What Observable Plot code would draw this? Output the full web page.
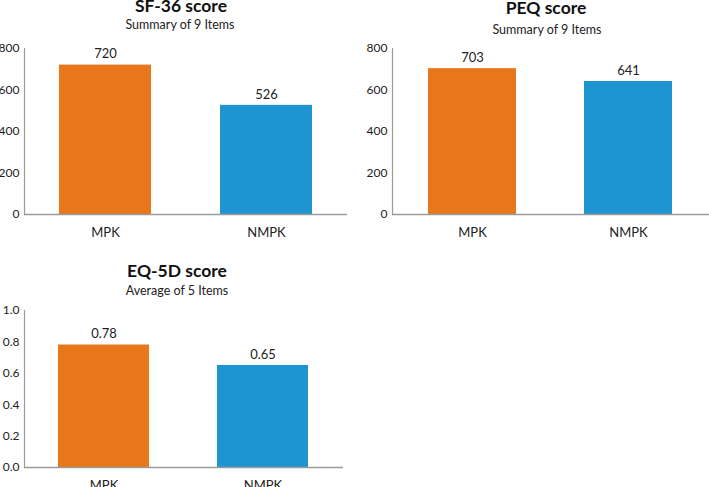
<!DOCTYPE html>
<html>
<head>
<meta charset="utf-8">
<script src="https://cdn.jsdelivr.net/npm/d3@7"></script>
<script src="https://cdn.jsdelivr.net/npm/@observablehq/plot@0.6"></script>
<style>
  html, body { margin: 0; padding: 0; background: #fff; }
  #root { position: relative; width: 709px; height: 487px; overflow: hidden; font-family: Lato, sans-serif; color: #111; }
  .title { position: absolute; width: 300px; text-align: center; font-weight: 700; font-size: 17.5px; line-height: 1; white-space: nowrap; }
  .sub { position: absolute; width: 300px; text-align: center; font-size: 12.5px; line-height: 1; white-space: nowrap; color: #222; }
  .chart { position: absolute; }
</style>
</head>
<body>
<div id="root"></div>
<script>
const categories = ["MPK", "NMPK"];
const sf36Values = [720, 526];
const peqValues = [703, 641];
const eq5dValues = [0.78, 0.65];
const barColors = ["#E8761A", "#1E95D1"];
const countTicks = [0, 200, 400, 600, 800];
const fracTicks = [0, 0.2, 0.4, 0.6, 0.8, 1.0];
const titles = ["SF-36 score", "PEQ score", "EQ-5D score"];
const subtitles = ["Summary of 9 Items", "Summary of 9 Items", "Average of 5 Items"];

const root = document.getElementById("root");

function addText(cls, text, cx, top) {
  const d = document.createElement("div");
  d.className = cls;
  d.textContent = text;
  d.style.left = (cx - 150) + "px";
  d.style.top = top + "px";
  root.appendChild(d);
}

function panel(o) {
  const data = categories.map((c, i) => ({cat: c, v: o.values[i]}));
  const svg = Plot.plot({
    width: o.width, height: o.height,
    marginLeft: o.ml, marginRight: o.mr, marginTop: o.mt, marginBottom: o.mb,
    style: {fontFamily: "Lato, sans-serif", fontSize: "13px", color: "#222", background: "transparent"},
    x: {domain: categories, paddingInner: o.pi, paddingOuter: o.po, label: null},
    y: {domain: [0, o.ymax], label: null},
    color: {domain: categories, range: barColors},
    marks: [
      Plot.barY(data, {x: "cat", y: "v", fill: "cat"}),
      Plot.text(data, {x: "cat", y: "v", text: d => o.vfmt(d.v), dy: -11, fontSize: 13, fill: "#222"}),
      Plot.ruleY([0], {stroke: "#9a9a9a", strokeWidth: 1.5}),
      Plot.frame({anchor: "left", stroke: "#9a9a9a", strokeWidth: 1.2}),
      Plot.axisY({ticks: o.ticks, tickSize: 0, tickPadding: 5, tickFormat: o.tfmt, fontSize: 12, label: null}),
      Plot.axisX({tickSize: 0, tickPadding: 13, fontSize: 13, label: null})
    ]
  });
  svg.classList.add("chart");
  svg.style.left = o.left + "px";
  svg.style.top = o.top + "px";
  root.appendChild(svg);
}

panel({values: sf36Values, ymax: 800, ticks: countTicks, tfmt: d3.format("d"), vfmt: d3.format("d"),
  left: -20, top: 40, width: 370, height: 205, ml: 44, mr: 3, mt: 8, mb: 31, pi: 0.426, po: 0.216});
panel({values: peqValues, ymax: 800, ticks: countTicks, tfmt: d3.format("d"), vfmt: d3.format("d"),
  left: 340, top: 40, width: 369, height: 205, ml: 52, mr: 0, mt: 8, mb: 31, pi: 0.433, po: 0.23});
panel({values: eq5dValues, ymax: 1.0, ticks: fracTicks, tfmt: d3.format(".1f"), vfmt: d3.format(".2f"),
  left: -20, top: 300, width: 370, height: 200, ml: 44, mr: 7, mt: 10, mb: 33, pi: 0.425, po: 0.21});

addText("title", titles[0], 181, -3);
addText("sub", subtitles[0], 180, 19);
addText("title", titles[1], 546, -1);
addText("sub", subtitles[1], 547, 24);
addText("title", titles[2], 177, 262);
addText("sub", subtitles[2], 177, 285);
</script>
</body>
</html>
